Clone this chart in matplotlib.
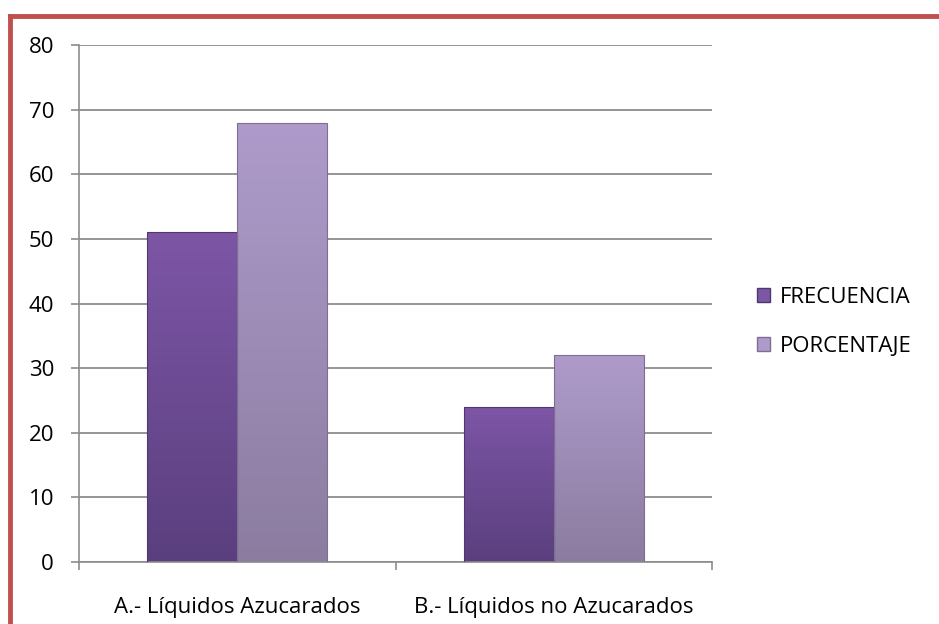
import numpy as np
import matplotlib
matplotlib.use("Agg")
import matplotlib.pyplot as plt
from matplotlib.colors import LinearSegmentedColormap
from matplotlib.patches import Patch
from matplotlib.lines import Line2D

categories = ["A.- Líquidos Azucarados", "B.- Líquidos no Azucarados"]
series_names = ["FRECUENCIA", "PORCENTAJE"]
frecuencia = [51, 24]
porcentaje = [68, 32]
yticks = [0, 10, 20, 30, 40, 50, 60, 70, 80]

plt.rcParams['font.family'] = ['Open Sans', 'DejaVu Sans']

fig = plt.figure(figsize=(9.39, 6.24), dpi=100)
ax = fig.add_axes([79/939, 1-562/624, (712-79)/939, (562-45)/624])

x = np.arange(len(categories))
w = 0.284
series = [frecuencia, porcentaje]
top_colors = ["#7d56a6", "#ae9bcb"]
bot_colors = ["#5a3f7e", "#8b7ca0"]
edge_colors = ["#4f3870", "#7d6f92"]

for i, vals in enumerate(series):
    offs = (i - 0.5) * w
    bars = ax.bar(x + offs, vals, w, color="none", edgecolor=edge_colors[i], linewidth=0.8, zorder=3)
    cmap = LinearSegmentedColormap.from_list("g%d" % i, [bot_colors[i], top_colors[i]])
    for b in bars:
        bx, by = b.get_x(), b.get_y()
        bw, bh = b.get_width(), b.get_height()
        grad = np.linspace(0, 1, 256).reshape(-1, 1)
        img = grad * np.ones((1, 64))
        im = ax.imshow(img, extent=[bx, bx + bw, by, by + bh], origin="lower",
                       cmap=cmap, aspect="auto", zorder=2, vmin=0, vmax=1)
        im.set_clip_path(b)

ax.set_xlim(-0.5, 1.5)
ax.set_ylim(0, 80)
ax.set_yticks(yticks)
ax.set_yticklabels([str(t) for t in yticks], fontsize=16)
ax.yaxis.grid(True, color="#8c8c8c", linewidth=1.3, zorder=0)
ax.set_axisbelow(True)
ax.set_xticks([-0.5, 0.5, 1.5])
ax.set_xticklabels([])
ax.set_xticks(x, minor=True)
ax.set_xticklabels(categories, minor=True, fontsize=16)
ax.tick_params(axis="x", which="minor", length=0, pad=25)
ax.tick_params(axis="x", which="major", length=6, color="#8c8c8c", width=1.2)
ax.tick_params(axis="y", length=6, color="#8c8c8c", width=1.2, pad=12)
for s in ["top", "right"]:
    ax.spines[s].set_visible(False)
for s in ["left", "bottom"]:
    ax.spines[s].set_color("#8c8c8c")
    ax.spines[s].set_linewidth(1.2)

handles = [Patch(facecolor=top_colors[i], edgecolor=edge_colors[i]) for i in range(2)]
leg = fig.legend(handles, series_names, loc="center left", bbox_to_anchor=(737/939, 1-322/624),
                 frameon=False, fontsize=16, handlelength=0.6, handleheight=0.6,
                 handletextpad=0.45, labelspacing=1.25)

# red border (left and top)
fig.add_artist(Line2D([10/939, 10/939], [0, 1-16/624], transform=fig.transFigure,
                      color="#c0504d", linewidth=3.5, solid_capstyle="projecting"))
fig.add_artist(Line2D([10/939, 1], [1-16/624, 1-16/624], transform=fig.transFigure,
                      color="#c0504d", linewidth=3.5, solid_capstyle="projecting"))

fig.savefig("out.png", dpi=100)
